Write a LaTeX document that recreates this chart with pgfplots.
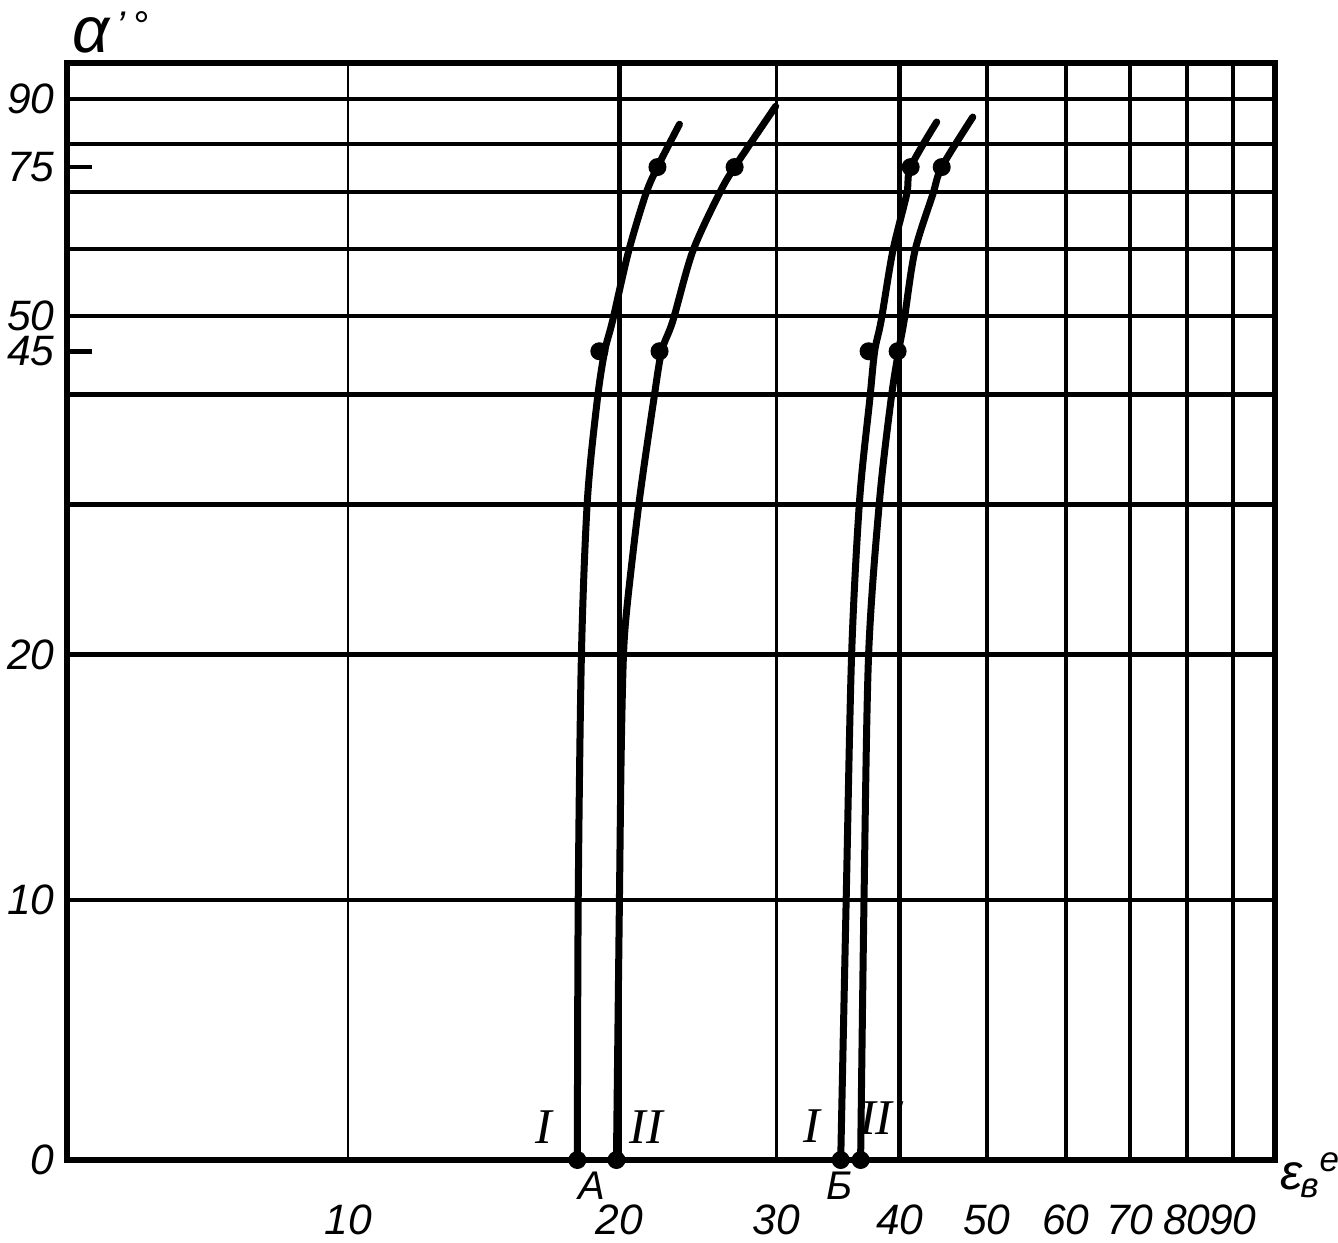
\documentclass[border=0pt]{standalone}
\usepackage{pgfplots}
\pgfplotsset{compat=1.18}
\usepackage{fontspec}
\setmainfont{Liberation Sans}
\newfontfamily\romfont{Liberation Serif}

% piecewise scales (transformed unit = 1 px of the scan)
\pgfplotsset{
  x coord trafo/.code={%
    \begingroup
    \pgfkeys{/pgf/fpu=true,/pgf/fpu/output format=fixed}%
    \pgfmathparse{ln(#1)}\let\trL\pgfmathresult
    \pgfmathparse{(\trL<2.302585) ? (68+405.4*(\trL-1.609438)) :
      ((\trL<2.995732) ? (349+390.97*(\trL-2.302585)) :
      ((\trL<3.401197) ? (620+387.2*(\trL-2.995732)) :
      ((\trL<3.688879) ? (777+427.6*(\trL-3.401197)) :
      ((\trL<3.912023) ? (900+389.9*(\trL-3.688879)) :
      ((\trL<4.094345) ? (987+433.3*(\trL-3.912023)) :
      ((\trL<4.248495) ? (1066+415.2*(\trL-4.094345)) :
      ((\trL<4.382027) ? (1130+426.9*(\trL-4.248495)) :
      ((\trL<4.499810) ? (1187+390.5*(\trL-4.382027)) :
      (1233+398.6*(\trL-4.499810))))))))))}%
    \xdef\trafoout{\pgfmathresult}%
    \endgroup
    \let\pgfmathresult\trafoout},
  y coord trafo/.code={%
    \begingroup
    \pgfkeys{/pgf/fpu=true,/pgf/fpu/output format=fixed}%
    \pgfmathparse{#1}\let\trA\pgfmathresult
    \pgfmathparse{(\trA<10) ? (26*\trA) :
      ((\trA<20) ? (260+24.5*(\trA-10)) :
      ((\trA<30) ? (505+15*(\trA-20)) :
      ((\trA<40) ? (655+11*(\trA-30)) :
      ((\trA<45) ? (765+8.6*(\trA-40)) :
      ((\trA<50) ? (808+7*(\trA-45)) :
      ((\trA<60) ? (843+6.7*(\trA-50)) :
      ((\trA<70) ? (910+5.7*(\trA-60)) :
      ((\trA<75) ? (967+5*(\trA-70)) :
      ((\trA<80) ? (992+4.6*(\trA-75)) :
      (1015+4.5*(\trA-80)))))))))))}%
    \xdef\trafoout{\pgfmathresult}%
    \endgroup
    \let\pgfmathresult\trafoout},
}

\begin{document}
\begin{tikzpicture}
\useasboundingbox (-13.4pt,-16.6pt) rectangle (254.2pt,232pt);
\begin{axis}[
  scale only axis, width=241.6pt, height=219.4pt,
  xmin=5, xmax=100, ymin=0, ymax=98,
  clip mode=individual,
  axis line style={line width=1.2pt},
  xtick pos=bottom, ytick pos=left,
  tick align=inside,
  xtick={20,40,50,60,70,80,90},
  xticklabels={20,40,50,60,70,80,90},
  extra x ticks={10,30},
  extra x tick labels={10,30},
  extra x tick style={major tick length=0pt,major grid style={black,line width=0.45pt}},
  xmajorgrids=true,
  major grid style={black,line width=0.9pt},
  xtick style={draw=none},
  ytick={0,10,20,45,50,75,90},
  yticklabels={0,10,20,45,50,75,90},
  extra y ticks={10,20,30,40,50,60,70,80,90},
  extra y tick labels={},
  extra y tick style={grid=major,major tick length=0pt},
  ytick style={black,line width=0.9pt},
  major tick length=5pt,
  xticklabel style={font=\fontsize{8.5}{10}\selectfont\itshape,yshift=-5.5pt},
  yticklabel style={font=\fontsize{8.5}{10}\selectfont\itshape,xshift=1pt},
]
% curves I and II for A and B
\addplot[black,line width=1.4pt,smooth,line cap=round] coordinates {
  (17.96,0)(18.0,10)(18.15,20)(18.43,30.45)(18.9,39.5)(19.26,45)(19.65,49.3)
  (20.47,59.6)(21.4,69.6)(22.06,75)(23.35,84.4)};
\addplot[black,line width=1.4pt,smooth,line cap=round] coordinates {
  (19.85,0)(20.0,10)(20.09,16)(20.21,20)(20.42,23.5)(21.06,30.45)(21.85,39.5)
  (22.3,45)(22.95,49.3)(24.15,59.6)(25.85,69.6)(26.92,75)(29.93,88.4)};
\addplot[black,line width=1.4pt,smooth,line cap=round] coordinates {
  (34.85,0)(35.3,10)(35.75,20)(36.43,30.45)(37.3,39.5)(37.73,45)(38.3,49.3)
  (39.35,59.6)(40.72,69.6)(41.14,75)(43.98,84.9)};
\addplot[black,line width=1.4pt,smooth,line cap=round] coordinates {
  (36.51,0)(36.8,10)(37.2,20)(38.17,30.45)(39.2,39.5)(39.9,45)(40.45,49.3)
  (41.57,59.6)(43.54,69.6)(44.55,75)(48.24,86)};
% measured points
\addplot[only marks,mark=*,mark size=1.6pt,black] coordinates {
  (17.96,0)(19.0,45)(22.06,75)
  (19.85,0)(22.18,45)(26.92,75)
  (34.85,0)(37.2,45)(41.14,75)
  (36.51,0)(39.81,45)(44.55,75)};
\node[font=\romfont\fontsize{10}{12}\selectfont\itshape] at (axis cs:16.5,1.25) {I};
\node[font=\romfont\fontsize{10}{12}\selectfont\itshape] at (axis cs:21.45,1.25) {II};
\node[font=\romfont\fontsize{10}{12}\selectfont\itshape] at (axis cs:32.56,1.3) {I};
\node[font=\romfont\fontsize{10}{12}\selectfont\itshape] at (axis cs:38.3,1.6) {II'};
\node[font=\fontsize{8}{9}\selectfont\itshape,inner sep=0pt] at (axis cs:18.66,-1.0) {А};
\node[font=\fontsize{8}{9}\selectfont\itshape,inner sep=0pt] at (axis cs:34.76,-1.0) {Б};
\node[anchor=base west,inner sep=0pt,font=\fontsize{13}{15}\selectfont\itshape] at (rel axis cs:0.004,1.01) {α\raisebox{2.5pt}{\fontsize{8}{8}\selectfont\,'\,°}};
\node[anchor=west,inner sep=0pt,font=\fontsize{10}{12}\selectfont\itshape] at (rel axis cs:1.004,-0.014) {ε\kern-0.5pt\textsubscript{в}\kern-0.3pt\textsuperscript{e}};
\end{axis}
\end{tikzpicture}
\end{document}
